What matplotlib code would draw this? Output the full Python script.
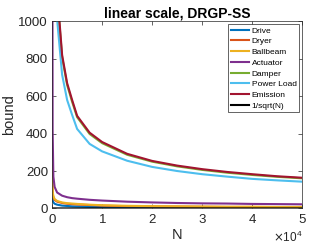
import matplotlib
matplotlib.use('Agg')
import matplotlib.pyplot as plt

plt.rcParams['font.family'] = ['Liberation Sans', 'DejaVu Sans']

# sample sizes and bound values
N = [10, 100, 250, 500, 1000, 2000, 3000, 4000, 5000, 7500, 10000,
     15000, 20000, 25000, 30000, 35000, 40000, 45000, 50000]

drive = [90, 45, 32, 25, 20, 15, 13, 11, 10, 8, 7, 6, 5, 4.5, 4, 4, 3.5, 3.5, 3]
dryer = [200, 85, 58, 45, 36, 29, 25, 23, 21, 18, 15, 12, 11, 10, 9, 8, 8, 7, 7]
ballbeam = [230, 95, 65, 50, 40, 32, 28, 26, 24, 20, 17, 14, 12, 11, 10, 9, 9, 8, 8]
actuator = [2300, 420, 170, 115, 85, 68, 60, 55, 52, 46, 42, 36, 32, 29, 27, 26, 24, 23, 22]
damper = [11400, 3610, 2285, 1615, 1140, 808, 660, 570, 488, 398, 349,
          287, 250, 225, 206, 191, 179, 169, 161]
power_load = [10100, 3200, 2020, 1430, 1010, 715, 580, 500, 425, 345, 305,
              255, 222, 200, 183, 170, 158, 150, 143]
emission = [11600, 3670, 2320, 1640, 1160, 820, 670, 580, 495, 405, 355,
            292, 254, 229, 210, 195, 183, 172, 164]
inv_sqrt = [0.32, 0.1, 0.063, 0.045, 0.032, 0.022, 0.018, 0.016, 0.014, 0.012, 0.01,
            0.008, 0.007, 0.006, 0.006, 0.005, 0.005, 0.005, 0.004]

names = ['Drive', 'Dryer', 'Ballbeam', 'Actuator', 'Damper', 'Power Load', 'Emission', '1/sqrt(N)']
series = [drive, dryer, ballbeam, actuator, damper, power_load, emission, inv_sqrt]
colors = [(0, 0.447, 0.741), (0.85, 0.325, 0.098), (0.929, 0.694, 0.125),
          (0.494, 0.184, 0.556), (0.466, 0.674, 0.188), (0.301, 0.745, 0.933),
          (0.635, 0.078, 0.184), 'black']

fig = plt.figure(figsize=(3.32, 2.49), dpi=100)
ax = fig.add_axes([0.157, 0.163, 0.753, 0.751])

for vals, name, c in zip(series, names, colors):
    ax.plot(N, vals, color=c, lw=1.5, label=name)

ax.set_xlim(0, 50000)
ax.set_ylim(0, 1000)
ax.set_xticks([0, 10000, 20000, 30000, 40000, 50000])
ax.set_yticks([0, 200, 400, 600, 800, 1000])
ax.ticklabel_format(axis='x', style='sci', scilimits=(0, 0), useMathText=True)

grey = (0.15, 0.15, 0.15)
ax.tick_params(direction='in', top=True, right=True, length=3, width=0.5,
               labelsize=9.5, colors=grey, pad=3)
ax.xaxis.get_offset_text().set_fontsize(8.5)
ax.xaxis.get_offset_text().set_color(grey)
for s in ax.spines.values():
    s.set_linewidth(0.5)
    s.set_color(grey)

ax.set_xlabel('N', fontsize=10.5, color=grey, labelpad=2)
ax.set_ylabel('bound', fontsize=10.5, color=grey, labelpad=2)
ax.set_title('linear scale, DRGP-SS', fontsize=10, fontweight='bold', pad=3)

leg = ax.legend(loc='upper right', fontsize=6, handlelength=2.2, handletextpad=0.3,
                labelspacing=0.35, borderpad=0.3, borderaxespad=0.35, fancybox=False,
                edgecolor=grey, framealpha=1)
leg.get_frame().set_linewidth(0.5)

fig.savefig('out.png', dpi=100)
